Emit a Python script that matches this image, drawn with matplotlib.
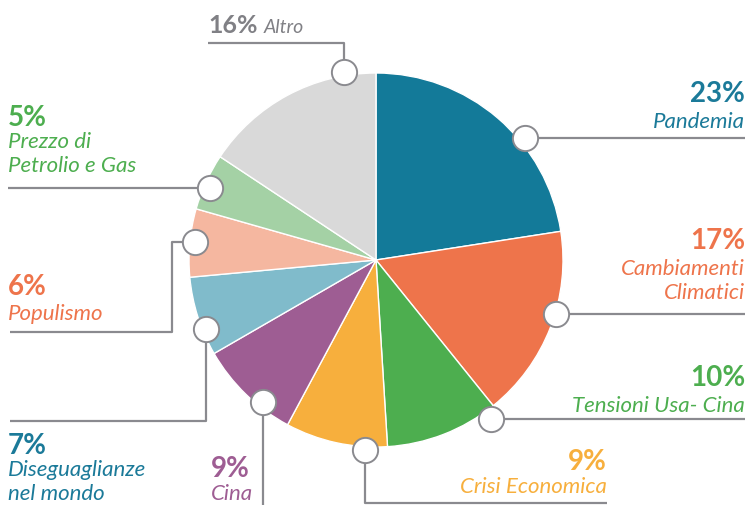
import numpy as np
import matplotlib
matplotlib.use("Agg")
import matplotlib.pyplot as plt

# Data
labels = ["Pandemia", "Cambiamenti\nClimatici", "Tensioni Usa- Cina", "Crisi Economica",
          "Cina", "Diseguaglianze\nnel mondo", "Populismo", "Prezzo di\nPetrolio e Gas", "Altro"]
values = [23, 17, 10, 9, 9, 7, 6, 5, 16]
slice_colors = ["#137A99", "#EE744B", "#4DAE4F", "#F7AF3D", "#9E5D93",
                "#80BBCB", "#F5B7A0", "#A4D1A5", "#D9D9D9"]
text_colors = ["#1B7A99", "#EE744B", "#4DAE4F", "#F7AF3D", "#9E5D93",
               "#1B7A99", "#EE744B", "#4DAE4F", "#808085"]

# Layout (pixel coords, y measured from top)
W, H = 747, 505
cx, cy, R = 376, 260, 187
anchor_deg = [39.3, -16.7, -54.1, -93.3, -128.5, -157.9, 174.3, 156.7, 99.7]
anchor_r = [193, 188, 196, 190, 182, 184, 182, 181, 191]
routes = [
    [("h", 745)],
    [("h", 745)],
    [("h", 745)],
    [("v", 503), ("h", 607)],
    [("v", 506)],
    [("v", 421), ("h", 10)],
    [("h", 172), ("v", 332), ("h", 10)],
    [("h", 8)],
    [("v", 43), ("h", 208)],
]
# (x, baseline of pct, baseline of first text line, alignment)
text_pos = [
    (745, 102, 128, "right"),
    (745, 249, 275, "right"),
    (745, 386, 412, "right"),
    (607, 470, 493, "right"),
    (211, 477, 500, "left"),
    (8, 454, 476, "left"),
    (8, 295, 320, "left"),
    (8, 126, 148, "left"),
]
line_gap = 24
line_col = "#8A8A8F"

fig = plt.figure(figsize=(W / 100, H / 100), dpi=100)
ax = fig.add_axes([0, 0, 1, 1])
ax.pie(values, colors=slice_colors, startangle=90, counterclock=False,
       center=(cx, H - cy), radius=R,
       wedgeprops=dict(edgecolor="white", linewidth=1))
ax.set_xlim(0, W)
ax.set_ylim(0, H)
ax.set_aspect("equal")
ax.axis("off")

for i, lab in enumerate(labels):
    a = np.deg2rad(anchor_deg[i])
    px = cx + anchor_r[i] * np.cos(a)
    py = cy - anchor_r[i] * np.sin(a)
    xs, ys = [px], [py]
    for kind, v in routes[i]:
        if kind == "h":
            xs.append(v); ys.append(ys[-1])
        else:
            xs.append(xs[-1]); ys.append(v)
    ax.plot(xs, [H - y for y in ys], color=line_col, lw=1.6, zorder=3,
            solid_capstyle="butt")
    ax.scatter([px], [H - py], s=330, facecolor="white", edgecolor=line_col,
               linewidth=1.4, zorder=4)

    col = text_colors[i]
    pct = f"{values[i]}%"
    if lab == "Altro":
        t = ax.text(208, H - 33, pct, color=col, fontsize=18, fontweight="bold",
                    family="Lato", va="baseline", ha="left")
        fig.canvas.draw()
        bb = t.get_window_extent()
        ax.text(bb.x1 + 6, H - 33, lab, color=col, fontsize=14, style="italic",
                family="Lato", va="baseline", ha="left")
        continue
    x, yp, yl, ha = text_pos[i]
    ax.text(x, H - yp, pct, color=col, fontsize=20, fontweight="bold",
            family="Lato", va="baseline", ha=ha)
    for k, part in enumerate(lab.split("\n")):
        ax.text(x, H - (yl + k * line_gap), part, color=col, fontsize=16,
                style="italic", family="Lato", va="baseline", ha=ha)

fig.savefig("out.png", dpi=100)
